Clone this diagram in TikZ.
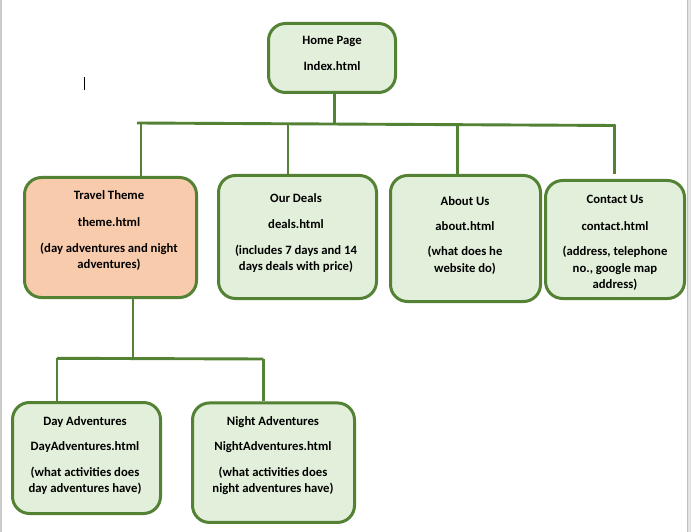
\documentclass[tikz,border=0pt]{standalone}
\usepackage{fontspec}
\setmainfont{Carlito}
\begin{document}
\begin{tikzpicture}[x=1pt,y=-1pt]
  \definecolor{leaf}{HTML}{548235}
  \definecolor{mint}{HTML}{E2EFDA}
  \definecolor{peach}{HTML}{F8CBAD}
  \tikzset{
    card/.style={draw=leaf, line width=3pt, rounded corners=17pt, fill=mint, inner sep=0pt},
    link/.style={draw=leaf, line width=2.9pt},
    txt/.style={anchor=base, inner sep=0pt, font=\fontsize{12.7}{15}\selectfont\bfseries},
  }
  % page area and window edges
  \fill[white] (0,0) rectangle (691,532);
  \useasboundingbox (0,0) rectangle (691,532);
  \fill[black!20] (0,0) rectangle (2,532);
  \fill[black!11] (686.5,0) rectangle (691,532);
  \draw[black!25, line width=0.8pt] (686.9,0) -- (686.9,532);

  % text cursor
  \coordinate (caretA) at (84.5,77);
  \coordinate (caretB) at (84.5,90.5);
  \draw[black, line width=0.9pt] (caretA) -- (caretB);

  % page boxes
  \node[card, minimum width=127, minimum height=69] (home) at (332,58) {};
  \node[card, fill=peach, minimum width=172, minimum height=120] (theme) at (110.5,237.5) {};
  \node[card, minimum width=158, minimum height=123] (deals) at (297.5,237) {};
  \node[card, minimum width=150, minimum height=126] (about) at (465.5,238.5) {};
  \node[card, minimum width=139, minimum height=118] (contact) at (615,239.5) {};
  \node[card, minimum width=148, minimum height=111] (day) at (86.5,458) {};
  \node[card, minimum width=162, minimum height=119.5] (night) at (273.5,462.7) {};

  % box texts
  \node[txt] (home-1) at (332,45) {Home Page};
  \node[txt] (home-2) at (332,71) {Index.html};

  \node[txt] (theme-1) at (109,200) {Travel Theme};
  \node[txt] (theme-2) at (109,226) {theme.html};
  \node[txt] (theme-3) at (109,252) {(day adventures and night};
  \node[txt] (theme-4) at (109,268) {adventures)};

  \node[txt] (deals-1) at (296,203) {Our Deals};
  \node[txt] (deals-2) at (296,228.5) {deals.html};
  \node[txt] (deals-3) at (296,254) {(includes 7 days and 14};
  \node[txt] (deals-4) at (296,270.5) {days deals with price)};

  \node[txt] (about-1) at (465,205) {About Us};
  \node[txt] (about-2) at (465,230) {about.html};
  \node[txt] (about-3) at (465,255.5) {(what does he};
  \node[txt] (about-4) at (465,272) {website do)};

  \node[txt] (contact-1) at (615,204) {Contact Us};
  \node[txt] (contact-2) at (615,230) {contact.html};
  \node[txt] (contact-3) at (615,255.5) {(address, telephone};
  \node[txt] (contact-4) at (615,272) {no., google map};
  \node[txt] (contact-5) at (615,288) {address)};

  \node[txt] (day-1) at (85,425) {Day Adventures};
  \node[txt] (day-2) at (85,450.5) {DayAdventures.html};
  \node[txt] (day-3) at (85,476) {(what activities does};
  \node[txt] (day-4) at (85,492) {day adventures have)};

  \node[txt] (night-1) at (273,425) {Night Adventures};
  \node[txt] (night-2) at (273,450.5) {NightAdventures.html};
  \node[txt] (night-3) at (273,476) {(what activities does};
  \node[txt] (night-4) at (273,492) {night adventures have)};

  % upper bus
  \coordinate (busL) at (137,123);
  \coordinate (busR) at (615.5,125.5);
  \coordinate (tapHome) at (334.3,124);
  \coordinate (tap1) at (141,123);
  \coordinate (tap2) at (288,123.8);
  \coordinate (tap3) at (457.3,124.7);
  \coordinate (tap4) at (614.3,125.5);
  \coordinate (tap4end) at (614.3,174.5);
  \draw[link] (busL) -- (busR);
  \draw[link] (home.south -| tapHome) -- (tapHome);
  \draw[link] (tap1) -- (tap1 |- theme.north);
  \draw[link] (tap2) -- (tap2 |- deals.north);
  \draw[link] (tap3) -- (tap3 |- about.north);
  \draw[link] (tap4) -- (tap4end);

  % lower bus
  \coordinate (subTop) at (133,358.3);
  \coordinate (subL) at (57,358.3);
  \coordinate (subR) at (263.3,359);
  \draw[link] (theme.south -| subTop) -- (subTop);
  \draw[link] (subL) -- (subR);
  \draw[link] (subL) -- (subL |- day.north);
  \draw[link] (subR) -- (subR |- night.north);
\end{tikzpicture}
\end{document}
